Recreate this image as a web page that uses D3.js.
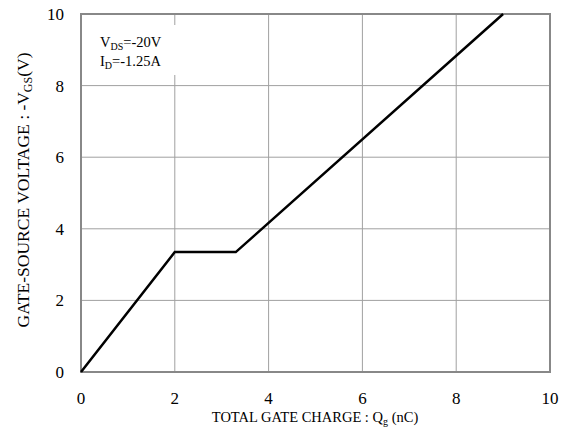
<!DOCTYPE html>
<html>
<head>
<meta charset="UTF-8">
<style>
  body { margin: 0; background: #ffffff; }
  svg text { font-family: "Liberation Serif", "Times New Roman", serif; }
</style>
</head>
<body>
<svg></svg>
<script src="https://d3js.org/d3.v7.min.js"></script>
<script>
// gate charge curve (nC, -V)
let qg = [0, 2, 3.3, 9];
let vgs = [0, 3.35, 3.35, 10];
let xTicks = [0, 2, 4, 6, 8, 10];
let yTicks = [0, 2, 4, 6, 8, 10];

let width = 571, height = 438;
let svg = d3.select("svg").attr("width", width).attr("height", height);

let x = d3.scaleLinear().domain([0, 10]).range([81, 550]);
let y = d3.scaleLinear().domain([0, 10]).range([372, 14]);

// grid
svg.append("g").selectAll("line").data(xTicks.slice(1, -1)).enter().append("line")
  .attr("x1", d => x(d)).attr("x2", d => x(d))
  .attr("y1", y(0)).attr("y2", y(10))
  .attr("stroke", "#a0a0a0").attr("stroke-width", 1);
svg.append("g").selectAll("line").data(yTicks.slice(1, -1)).enter().append("line")
  .attr("x1", x(0)).attr("x2", x(10))
  .attr("y1", d => y(d)).attr("y2", d => y(d))
  .attr("stroke", "#a0a0a0").attr("stroke-width", 1);

// white box behind annotation
svg.append("rect").attr("x", 84).attr("y", 25).attr("width", 96).attr("height", 50).attr("fill", "#fff");

// frame
svg.append("rect").attr("x", x(0)).attr("y", y(10))
  .attr("width", x(10) - x(0)).attr("height", y(0) - y(10))
  .attr("fill", "none").attr("stroke", "#888").attr("stroke-width", 2);

// tick labels
svg.append("g").selectAll("text").data(xTicks).enter().append("text")
  .attr("x", d => x(d)).attr("y", 404)
  .attr("text-anchor", "middle").attr("font-size", 17).text(d => d);
svg.append("g").selectAll("text").data(yTicks).enter().append("text")
  .attr("x", 64).attr("y", d => y(d) + 6)
  .attr("text-anchor", "end").attr("font-size", 17).text(d => d);

// curve
svg.append("path").datum(qg.map((q, i) => [q, vgs[i]]))
  .attr("d", d3.line().x(d => x(d[0])).y(d => y(d[1])))
  .attr("fill", "none").attr("stroke", "#000").attr("stroke-width", 2.5);

// axis titles
let xt = svg.append("text").attr("x", 315).attr("y", 422).attr("text-anchor", "middle").attr("font-size", 14.5);
xt.append("tspan").text("TOTAL GATE CHARGE : Q");
xt.append("tspan").attr("font-size", 10).attr("dy", 3).text("g");
xt.append("tspan").attr("dy", -3).text(" (nC)");

let yt = svg.append("text").attr("transform", "translate(29,190) rotate(-90)")
  .attr("text-anchor", "middle").attr("font-size", 17.5);
yt.append("tspan").text("GATE-SOURCE VOLTAGE : -V");
yt.append("tspan").attr("font-size", 12).attr("dy", 3).text("GS");
yt.append("tspan").attr("dy", -3).text("(V)");

// annotation
let a1 = svg.append("text").attr("x", 100).attr("y", 47).attr("font-size", 14.5);
a1.append("tspan").text("V");
a1.append("tspan").attr("font-size", 10).attr("dy", 3).text("DS");
a1.append("tspan").attr("dy", -3).text("=-20V");
let a2 = svg.append("text").attr("x", 100).attr("y", 66).attr("font-size", 14.5);
a2.append("tspan").text("I");
a2.append("tspan").attr("font-size", 10).attr("dy", 3).text("D");
a2.append("tspan").attr("dy", -3).text("=-1.25A");
</script>
</body>
</html>
